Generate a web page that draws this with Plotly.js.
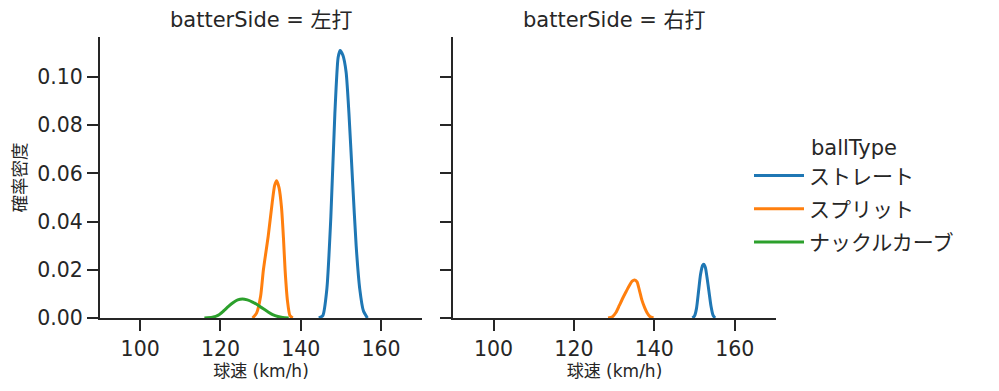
<!DOCTYPE html>
<html>
<head>
<meta charset="utf-8">
<script src="https://cdn.plot.ly/plotly-3.0.1.min.js"></script>
<style>html,body{margin:0;padding:0;background:#fff;}#chart{width:999px;height:391px;}</style>
</head>
<body>
<div id="chart"></div>
<script>
// ---- data (KDE curves, x = km/h, y = density) ----
const panelTitles = ["batterSide = 左打", "batterSide = 右打"];
const ballTypes = ["ストレート", "スプリット", "ナックルカーブ"];
const colors = ["#1f77b4", "#ff7f0e", "#2ca02c"];

// left panel (左打)
const leftStraightX = [144.5, 145.5, 146.5, 147.5, 148.5, 149.3, 149.8, 150.5, 151.3, 152.0, 152.9, 153.8, 154.7, 155.6, 156.6];
const leftStraightY = [0, 0.001, 0.012, 0.042, 0.085, 0.108, 0.111, 0.109, 0.102, 0.085, 0.057, 0.030, 0.012, 0.003, 0];
const leftSplitX = [128.0, 129.0, 130.0, 130.7, 131.9, 132.9, 133.5, 134.0, 134.6, 135.2, 135.7, 136.1, 136.7, 137.3, 138.0];
const leftSplitY = [0, 0.002, 0.009, 0.020, 0.034, 0.048, 0.055, 0.057, 0.054, 0.046, 0.033, 0.020, 0.007, 0.001, 0];
const leftCurveX = [116, 118, 119.5, 120.7, 122, 123.2, 124.3, 125.5, 126.7, 128, 129.3, 130.5, 131.8, 133, 134.3, 135.5, 137];
const leftCurveY = [0, 0.0003, 0.0012, 0.0028, 0.0048, 0.0064, 0.0075, 0.0079, 0.0075, 0.0066, 0.0054, 0.0040, 0.0026, 0.0014, 0.0006, 0.0002, 0];

// right panel (右打)
const rightStraightX = [149.5, 150.0, 150.5, 151.0, 151.5, 152.0, 152.3, 152.7, 153.1, 153.6, 154.1, 154.6, 155.1];
const rightStraightY = [0, 0.0008, 0.004, 0.011, 0.018, 0.0218, 0.0223, 0.0210, 0.017, 0.011, 0.005, 0.0012, 0];
const rightSplitX = [128.5, 129.5, 130.5, 131.3, 132.2, 133.0, 133.8, 134.5, 135.1, 135.7, 136.3, 136.9, 137.6, 138.2, 138.9, 139.8];
const rightSplitY = [0, 0.0004, 0.0024, 0.0052, 0.0084, 0.0110, 0.0135, 0.0153, 0.0158, 0.0150, 0.0115, 0.0075, 0.0043, 0.0022, 0.0006, 0];

const xTicks = [100, 120, 140, 160];
const yTicks = [0, 0.02, 0.04, 0.06, 0.08, 0.10];
const xTitle = "球速 (km/h)";
const yTitle = "確率密度";
const legendTitle = "ballType";

const FONT = "'DejaVu Sans', 'Noto Sans CJK JP', sans-serif";
const INK = "#262626";

function tr(x, y, i, xa, ya, show) {
  return {
    type: "scatter", mode: "lines", x: x, y: y, name: ballTypes[i],
    legendgroup: "g" + i, showlegend: show,
    line: {color: colors[i], width: 3, shape: "spline", smoothing: 0.6},
    xaxis: xa, yaxis: ya, hoverinfo: "x+y"
  };
}

const data = [
  tr(leftStraightX, leftStraightY, 0, "x", "y", true),
  tr(leftSplitX, leftSplitY, 1, "x", "y", true),
  tr(leftCurveX, leftCurveY, 2, "x", "y", true),
  tr(rightStraightX, rightStraightY, 0, "x2", "y2", false),
  tr(rightSplitX, rightSplitY, 1, "x2", "y2", false)
];

const W = 999, H = 391;
const axL = [100 / W, 422 / W], axR = [453.3 / W, 775.7 / W];
const yDom = [1 - 318 / H, 1 - 37 / H];

function xaxis(dom, anchor) {
  return {
    domain: dom, anchor: anchor, range: [90, 170.2], tickvals: xTicks,
    showgrid: false, zeroline: false, showline: true, linecolor: INK, linewidth: 2,
    ticks: "outside", ticklen: 11, tickwidth: 2, tickcolor: INK,
    tickfont: {family: FONT, size: 20.5, color: INK},
    title: {text: xTitle, font: {family: FONT, size: 17, color: INK}, standoff: 2}
  };
}
function yaxis(anchor, labels) {
  return {
    domain: yDom, anchor: anchor, range: [0, 0.1166], tickvals: yTicks, tickformat: ".2f",
    showticklabels: labels,
    showgrid: false, zeroline: false, showline: true, linecolor: INK, linewidth: 2,
    ticks: "outside", ticklen: 11, tickwidth: 2, tickcolor: INK,
    tickfont: {family: FONT, size: 20.5, color: INK}
  };
}

const layout = {
  width: W, height: H,
  margin: {l: 0, r: 0, t: 0, b: 0},
  paper_bgcolor: "#fff", plot_bgcolor: "#fff",
  font: {family: FONT, color: INK},
  xaxis: xaxis(axL, "y"),
  yaxis: Object.assign(yaxis("x", true), {
    title: {text: yTitle, font: {family: FONT, size: 17.5, color: INK}, standoff: 6}
  }),
  xaxis2: xaxis(axR, "y2"),
  yaxis2: Object.assign(yaxis("x2", false), {matches: "y"}),
  showlegend: true,
  legend: {
    x: 749 / W, xanchor: "left", y: 1 - 128 / H, yanchor: "top",
    bgcolor: "rgba(0,0,0,0)", borderwidth: 0,
    font: {family: FONT, size: 21, color: INK},
    title: {text: legendTitle, side: "top center", font: {family: FONT, size: 21, color: INK}},
    traceorder: "grouped", tracegroupgap: 3, itemwidth: 50
  },
  annotations: [
    {text: panelTitles[0], xref: "paper", yref: "paper", x: (axL[0] + axL[1]) / 2, y: 1 - 20 / H,
     xanchor: "center", yanchor: "middle", showarrow: false, font: {family: FONT, size: 21, color: INK}},
    {text: panelTitles[1], xref: "paper", yref: "paper", x: (axR[0] + axR[1]) / 2, y: 1 - 20 / H,
     xanchor: "center", yanchor: "middle", showarrow: false, font: {family: FONT, size: 21, color: INK}}
  ]
};

Plotly.newPlot("chart", data, layout, {staticPlot: true, displayModeBar: false});
</script>
</body>
</html>
